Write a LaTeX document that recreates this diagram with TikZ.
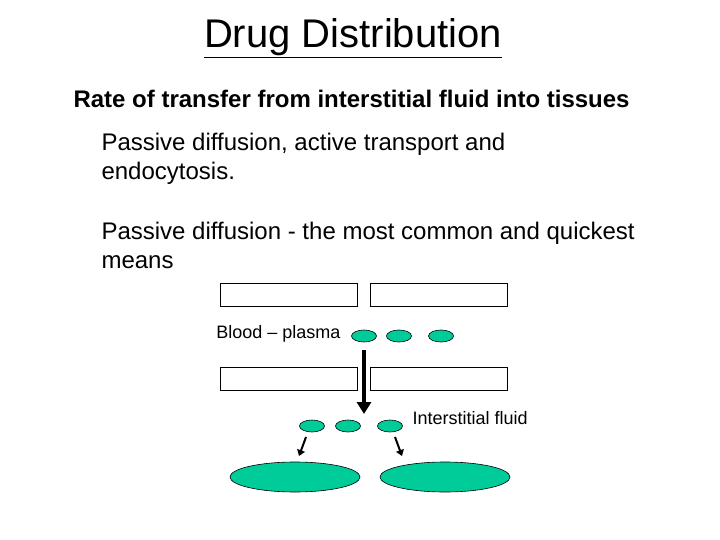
\documentclass[tikz,border=0pt]{standalone}
\usepackage{fontspec}
\setmainfont{Liberation Sans}
\usetikzlibrary{arrows.meta, shapes.geometric}
\definecolor{drop}{RGB}{0,204,153}
\tikzset{
  wall/.style={draw, line width=0.8pt, minimum width=137pt, minimum height=23pt, inner sep=0pt},
  mol/.style={draw, fill=drop, ellipse, line width=0.6pt, minimum width=25pt, minimum height=12pt, inner sep=0pt},
  tissue/.style={draw, fill=drop, ellipse, line width=0.6pt, minimum width=130pt, minimum height=30pt, inner sep=0pt},
  body/.style={anchor=west, align=left, font=\fontsize{24}{29}\selectfont}
}
\begin{document}
\begin{tikzpicture}[x=1pt, y=-1pt]
		\useasboundingbox (0,0) rectangle (720,540);
		%%%%%%%%%%%%%
		\node (title) at (353, 38) {\fontsize{40}{44}\selectfont\underline{Drug Distribution}};
		\node (rate) [anchor=west] at (70, 99) {\fontsize{24}{28}\selectfont\bfseries Rate of transfer from interstitial fluid into tissues};
		\node (ways) [body] at (98, 159) {Passive diffusion, active transport and\\endocytosis.};
		\node (pass) [body] at (98, 245) {Passive diffusion - the most common and quickest\\means};
		%%%%%%%%%%%%%
		\node (w1) [wall] at (288.5, 294.5) {};
		\node (w2) [wall] at (439, 294.5) {};
		\node (w3) [wall] at (288.5, 378.5) {};
		\node (w4) [wall] at (439, 378.5) {};
		\node (blood) [anchor=east, font=\fontsize{18}{20}\selectfont] at (344, 334) {Blood -- plasma};
		\node (b1) [mol] at (364, 336) {};
		\node (b2) [mol] at (399, 336) {};
		\node (b3) [mol] at (441, 336) {};
		\node (fluid) [anchor=west, font=\fontsize{18}{20}\selectfont] at (409, 418) {Interstitial fluid};
		\node (f1) [mol] at (312, 426) {};
		\node (f2) [mol] at (348, 426) {};
		\node (f3) [mol] at (390, 426) {};
		\node (t1) [tissue] at (295, 477) {};
		\node (t2) [tissue] at (445, 477) {};
		%%%%%%%%%%%%%
		\coordinate (top) at (364, 350); \coordinate (bot) at (364, 414);
		\coordinate (s1) at (306, 437); \coordinate (e1) at (299, 456);
		\coordinate (s3) at (395, 437); \coordinate (e3) at (402, 456);
		\draw [line width=4pt, -{Triangle[length=12pt, width=14pt]}] (top) to (bot);
		\draw [line width=2pt, -{Triangle[length=6pt, width=8pt]}] (s1) to (e1);
		\draw [line width=2pt, -{Triangle[length=6pt, width=8pt]}] (s3) to (e3);
\end{tikzpicture}
\end{document}
